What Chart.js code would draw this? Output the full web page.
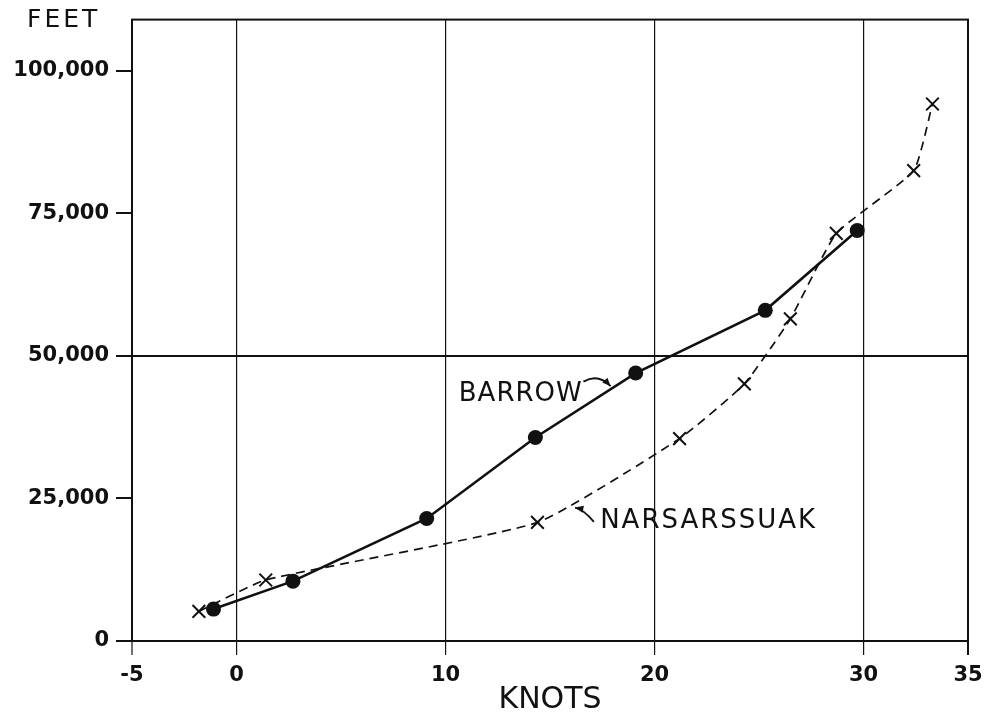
<!DOCTYPE html>
<html>
<head>
<meta charset="utf-8">
<title>Wind speed vs altitude</title>
<script src="https://cdn.jsdelivr.net/npm/chart.js@4.4.1/dist/chart.umd.min.js"></script>
<style>
  html, body { margin: 0; padding: 0; background: #fff; }
  #wrap { width: 997px; height: 715px; }
</style>
</head>
<body>
<div id="wrap"><canvas id="chart"></canvas></div>
<script>
// Barrow (solid line, dots)
const barrowKnots = [-1.1, 2.7, 9.1, 14.3, 19.1, 25.3, 29.7];
const barrowFeet = [5600, 10500, 21500, 35700, 47000, 58000, 72000];

// Narsarssuak (dashed line, crosses)
const narsKnots = [-1.8, 1.4, 14.4, 21.2, 24.3, 26.5, 28.7, 32.4, 33.3];
const narsFeet = [5200, 10700, 20800, 35500, 45100, 56500, 71500, 82500, 94200];

// axis ticks
const knotTicks = [-5, 0, 10, 20, 30, 35];
const feetTicks = [0, 25000, 50000, 75000, 100000];

const ink = '#111';
const tickFont = { family: 'DejaVu Sans', size: 21, weight: 'bold' };

const toPoints = (xs, ys) => xs.map((x, i) => ({ x: x, y: ys[i] }));

// frame round the plot + hand lettering
const paperPlugin = {
  id: 'paper',
  beforeDatasetsDraw(chart) {
    const { ctx, chartArea: a } = chart;
    ctx.save();
    ctx.strokeStyle = ink;
    ctx.lineWidth = 2;
    ctx.strokeRect(a.left, a.top, a.right - a.left, a.bottom - a.top);
    ctx.restore();
  },
  afterDatasetsDraw(chart) {
    const { ctx, scales } = chart;
    const px = v => scales.x.getPixelForValue(v);
    const py = v => scales.y.getPixelForValue(v);
    ctx.save();
    ctx.fillStyle = ink;
    ctx.strokeStyle = ink;
    ctx.textBaseline = 'middle';

    ctx.font = '25px "DejaVu Sans"';
    ctx.letterSpacing = '3px';
    ctx.textAlign = 'left';
    ctx.fillText('FEET', 27, 20);

    ctx.font = '26px "DejaVu Sans"';
    ctx.letterSpacing = '1px';
    ctx.textAlign = 'center';
    ctx.fillText('BARROW', px(13.6), py(43300));
    ctx.letterSpacing = '2px';
    ctx.textAlign = 'left';
    ctx.fillText('NARSARSSUAK', px(17.4), py(21000));

    // little curved arrows
    ctx.lineWidth = 1.8;
    const arrow = (x0, y0, cx, cy, x1, y1) => {
      ctx.beginPath();
      ctx.moveTo(x0, y0);
      ctx.quadraticCurveTo(cx, cy, x1, y1);
      ctx.stroke();
      const ang = Math.atan2(y1 - cy, x1 - cx);
      ctx.beginPath();
      ctx.moveTo(x1, y1);
      ctx.lineTo(x1 - 9 * Math.cos(ang - 0.4), y1 - 9 * Math.sin(ang - 0.4));
      ctx.lineTo(x1 - 9 * Math.cos(ang + 0.4), y1 - 9 * Math.sin(ang + 0.4));
      ctx.closePath();
      ctx.fill();
    };
    arrow(px(16.6), py(45500), px(17.3), py(47000), px(17.9), py(44700));
    arrow(px(17.1), py(20900), px(16.6), py(23100), px(16.2), py(23400));
    ctx.restore();
  }
};

new Chart(document.getElementById('chart'), {
  type: 'scatter',
  data: {
    datasets: [
      {
        label: 'Narsarssuak',
        data: toPoints(narsKnots, narsFeet),
        showLine: true,
        borderColor: ink,
        borderWidth: 1.7,
        borderDash: [9, 6],
        tension: 0.15,
        pointStyle: 'crossRot',
        pointRadius: 9,
        pointBorderWidth: 2,
        pointBorderColor: ink
      },
      {
        label: 'Barrow',
        data: toPoints(barrowKnots, barrowFeet),
        showLine: true,
        borderColor: ink,
        borderWidth: 2.6,
        pointStyle: 'circle',
        pointRadius: 7.5,
        pointBackgroundColor: ink,
        pointBorderColor: ink,
        pointBorderWidth: 0
      }
    ]
  },
  options: {
    responsive: true,
    maintainAspectRatio: false,
    animation: false,
    layout: { padding: { top: 17, right: 29, left: 0, bottom: 0 } },
    plugins: {
      legend: { display: false },
      tooltip: { enabled: false }
    },
    scales: {
      x: {
        type: 'linear',
        min: -5,
        max: 35,
        afterBuildTicks: axis => { axis.ticks = knotTicks.map(v => ({ value: v })); },
        afterFit: axis => { axis.height = 74; },
        border: { display: false },
        grid: {
          color: ink,
          lineWidth: c => (c.tick && (c.tick.value === -5 || c.tick.value === 35)) ? 2 : 1.2,
          tickLength: 14,
          tickColor: ink,
          tickWidth: c => (c.tick && c.tick.value === 35) ? 2 : 1.2
        },
        ticks: {
          color: ink,
          font: tickFont,
          padding: 8,
          maxRotation: 0,
          autoSkip: false
        },
        title: {
          display: true,
          text: 'KNOTS',
          color: ink,
          font: { family: 'DejaVu Sans', size: 30, lineHeight: 1 },
          padding: { top: 0, bottom: 0 }
        }
      },
      y: {
        type: 'linear',
        min: 0,
        max: 109000,
        afterBuildTicks: axis => { axis.ticks = feetTicks.map(v => ({ value: v })); },
        afterFit: axis => { axis.width = 132; },
        border: { display: false },
        grid: {
          color: c => (c.tick && (c.tick.value === 50000 || c.tick.value === 0)) ? ink : 'rgba(0,0,0,0)',
          lineWidth: 2,
          tickLength: 16,
          tickColor: ink,
          tickWidth: 2
        },
        ticks: {
          color: ink,
          font: tickFont,
          padding: 7,
          callback: v => v.toLocaleString('en-US')
        }
      }
    }
  },
  plugins: [paperPlugin]
});
</script>
</body>
</html>
